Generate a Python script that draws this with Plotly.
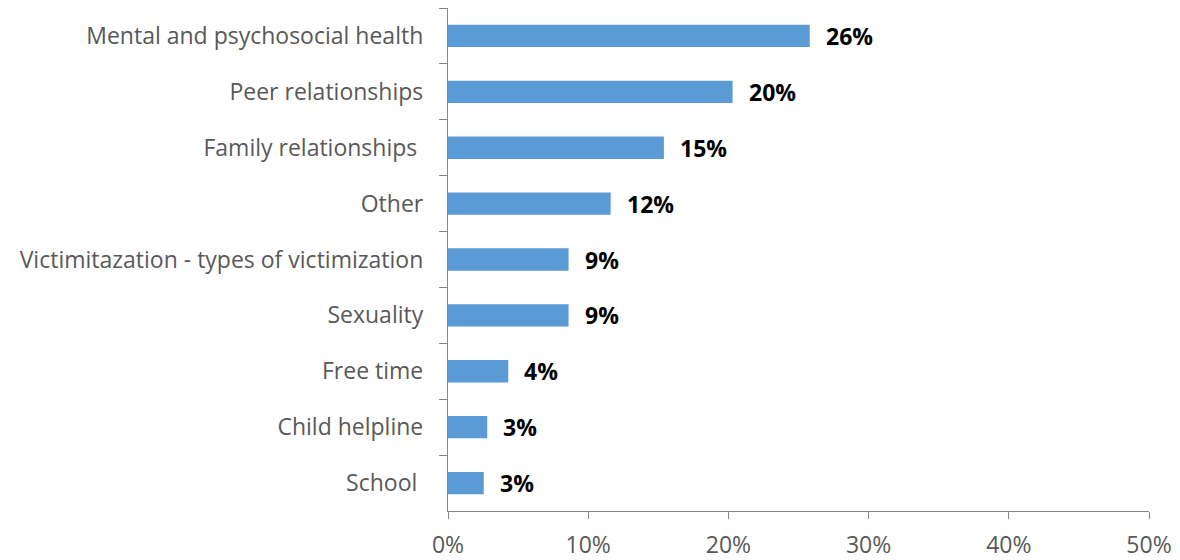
import plotly.graph_objects as go

categories = [
    "Mental and psychosocial health",
    "Peer relationships",
    "Family relationships\u00a0",
    "Other",
    "Victimitazation - types of victimization",
    "Sexuality",
    "Free time",
    "Child helpline",
    "School\u00a0",
]
values = [25.8, 20.3, 15.4, 11.6, 8.6, 8.6, 4.3, 2.8, 2.55]
labels = ["26%", "20%", "15%", "12%", "9%", "9%", "4%", "3%", "3%"]
x_ticks = [0, 10, 20, 30, 40, 50]
x_tick_text = ["0%", "10%", "20%", "30%", "40%", "50%"]

FONT = "Open Sans"
GRAY = "#595959"
AXIS = "#868686"
FS = 23

fig = go.Figure()
fig.add_trace(go.Bar(
    x=values, y=categories, orientation="h",
    marker=dict(color="#5B9BD5", line=dict(width=0)),
    width=0.4, hoverinfo="skip",
))

for v, c, t in zip(values, categories, labels):
    fig.add_annotation(
        x=v, y=c, text=t, showarrow=False, xanchor="left", yanchor="middle",
        xshift=14, font=dict(family=FONT, size=FS, color="black", weight="bold"),
    )

fig.update_layout(
    width=1180, height=560,
    margin=dict(l=448, r=31, t=8, b=49, autoexpand=False),
    paper_bgcolor="white", plot_bgcolor="white",
    showlegend=False,
    bargap=0.6,
    font=dict(family=FONT, size=FS, color=GRAY),
)
fig.update_xaxes(
    range=[0, 50], tickvals=x_ticks, ticktext=x_tick_text,
    showgrid=False, zeroline=False, automargin=False,
    showline=True, linecolor=AXIS, linewidth=1.3,
    ticks="outside", ticklen=7, tickcolor=AXIS, tickwidth=1.3,
    ticklabelstandoff=6,
    tickfont=dict(family=FONT, size=FS, color=GRAY),
)
fig.update_yaxes(
    categoryorder="array", categoryarray=categories,
    autorange="reversed", automargin=False,
    showgrid=False, zeroline=False,
    showline=True, linecolor=AXIS, linewidth=1.3,
    ticks="outside", ticklen=8, tickcolor=AXIS, tickwidth=1.3,
    tickson="boundaries", ticklabelstandoff=19,
    tickfont=dict(family=FONT, size=FS, color=GRAY),
)

fig.write_html("out.html")
